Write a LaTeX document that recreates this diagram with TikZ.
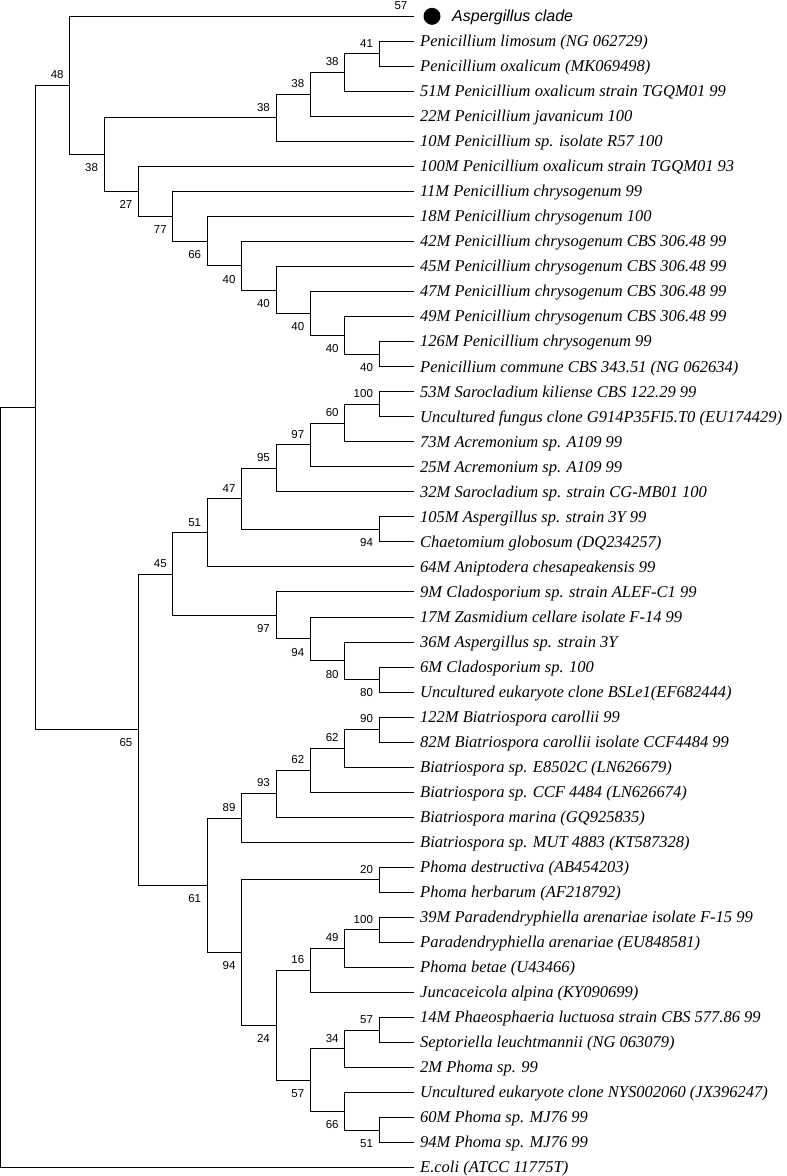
\documentclass[tikz,border=0pt]{standalone}
\usepackage{fontspec}
\setmainfont{Liberation Serif}
\newfontfamily\cladefont{Liberation Sans}
\newfontfamily\bsfont{Liberation Sans}

\tikzset{
	branch/.style={draw=black, line width=1pt},
	taxon/.style={anchor=base west, inner sep=0pt, xshift=6.5pt, yshift=-5.3pt, font=\itshape\fontsize{16.5}{18}\selectfont},
	bsup/.style={anchor=base east, inner sep=0pt, xshift=-6pt, yshift=6.8pt, font=\bsfont\fontsize{11.5}{12}\selectfont},
	bsdown/.style={anchor=base east, inner sep=0pt, xshift=-6pt, yshift=-17.3pt, font=\bsfont\fontsize{11.5}{12}\selectfont},
}

\begin{document}
\begin{tikzpicture}[x=34.375pt, y=-25.03pt]
		\useasboundingbox (-1pt,16.3pt) rectangle (786pt,-1159.7pt);

		% Taxa (tips of the tree)
		\coordinate (l0) at (12,0);
		\foreach \i/\name in {
			1/{Penicillium limosum (NG 062729)},
			2/{Penicillium oxalicum (MK069498)},
			3/{51M Penicillium oxalicum strain TGQM01 99},
			4/{22M Penicillium javanicum 100},
			5/{10M Penicillium sp. isolate R57 100},
			6/{100M Penicillium oxalicum strain TGQM01 93},
			7/{11M Penicillium chrysogenum 99},
			8/{18M Penicillium chrysogenum 100},
			9/{42M Penicillium chrysogenum CBS 306.48 99},
			10/{45M Penicillium chrysogenum CBS 306.48 99},
			11/{47M Penicillium chrysogenum CBS 306.48 99},
			12/{49M Penicillium chrysogenum CBS 306.48 99},
			13/{126M Penicillium chrysogenum 99},
			14/{Penicillium commune CBS 343.51 (NG 062634)},
			15/{53M Sarocladium kiliense CBS 122.29 99},
			16/{Uncultured fungus clone G914P35FI5.T0 (EU174429)},
			17/{73M Acremonium sp. A109 99},
			18/{25M Acremonium sp. A109 99},
			19/{32M Sarocladium sp. strain CG-MB01 100},
			20/{105M Aspergillus sp. strain 3Y 99},
			21/{Chaetomium globosum (DQ234257)},
			22/{64M Aniptodera chesapeakensis 99},
			23/{9M Cladosporium sp. strain ALEF-C1 99},
			24/{17M Zasmidium cellare isolate F-14 99},
			25/{36M Aspergillus sp. strain 3Y},
			26/{6M Cladosporium sp. 100},
			27/{Uncultured eukaryote clone BSLe1(EF682444)},
			28/{122M Biatriospora carollii 99},
			29/{82M Biatriospora carollii isolate CCF4484 99},
			30/{Biatriospora sp. E8502C (LN626679)},
			31/{Biatriospora sp. CCF 4484 (LN626674)},
			32/{Biatriospora marina (GQ925835)},
			33/{Biatriospora sp. MUT 4883 (KT587328)},
			34/{Phoma destructiva (AB454203)},
			35/{Phoma herbarum (AF218792)},
			36/{39M Paradendryphiella arenariae isolate F-15 99},
			37/{Paradendryphiella arenariae (EU848581)},
			38/{Phoma betae (U43466)},
			39/{Juncaceicola alpina (KY090699)},
			40/{14M Phaeosphaeria luctuosa strain CBS 577.86 99},
			41/{Septoriella leuchtmannii (NG 063079)},
			42/{2M Phoma sp. 99},
			43/{Uncultured eukaryote clone NYS002060 (JX396247)},
			44/{60M Phoma sp. MJ76 99},
			45/{94M Phoma sp. MJ76 99},
			46/{E.coli (ATCC 11775T)}} {
			\coordinate (l\i) at (12,\i);
			\node[taxon] (t\i) at (l\i) {\name};
		}

		% Collapsed Aspergillus clade
		\node[circle, fill=black, inner sep=0pt, minimum size=17pt] (dot) at ([xshift=18.5pt]l0) {};
		\node[anchor=base west, inner sep=0pt, font=\cladefont\itshape\fontsize{16}{18}\selectfont] (tclade) at ([xshift=38.5pt, yshift=-5.3pt]l0) {Aspergillus clade};
		\node[bsup] (bl0) at (l0) {57};

		% Root and deep nodes
		\coordinate (root) at (0,30.8);
		\coordinate (A) at (1,15.63);
		\coordinate (B) at (2,2.765);    \node[bsup]   (bB) at (B) {48};
		\coordinate (C) at (4,28.5);     \node[bsdown] (bC) at (C) {65};

		% Penicillium group
		\coordinate (D) at (3,5.529);    \node[bsdown] (bD) at (D) {38};
		\coordinate (E) at (8,4.0625);   \node[bsup]   (bE) at (E) {38};
		\coordinate (G) at (9,3.125);    \node[bsup]   (bG) at (G) {38};
		\coordinate (H) at (10,2.25);    \node[bsup]   (bH) at (H) {38};
		\coordinate (I) at (11,1.5);     \node[bsup]   (bI) at (I) {41};
		\coordinate (F) at (4,6.996);    \node[bsdown] (bF) at (F) {27};
		\coordinate (J) at (5,7.992);    \node[bsdown] (bJ) at (J) {77};
		\coordinate (K) at (6,8.984);    \node[bsdown] (bK) at (K) {66};
		\coordinate (L) at (7,9.969);    \node[bsdown] (bL) at (L) {40};
		\coordinate (M) at (8,10.9375);  \node[bsdown] (bM) at (M) {40};
		\coordinate (N) at (9,11.875);   \node[bsdown] (bN) at (N) {40};
		\coordinate (O) at (10,12.75);   \node[bsdown] (bO) at (O) {40};
		\coordinate (P) at (11,13.5);    \node[bsdown] (bP) at (P) {40};

		% Sordariomycetes / Cladosporium group
		\coordinate (Q) at (5,22.29);    \node[bsup]   (bQ) at (Q) {45};
		\coordinate (S) at (6,20.64);    \node[bsup]   (bS) at (S) {51};
		\coordinate (U) at (7,19.28);    \node[bsup]   (bU) at (U) {47};
		\coordinate (V) at (8,18.0625);  \node[bsup]   (bV) at (V) {95};
		\coordinate (X) at (9,17.125);   \node[bsup]   (bX) at (X) {97};
		\coordinate (Y) at (10,16.25);   \node[bsup]   (bY) at (Y) {60};
		\coordinate (Z) at (11,15.5);    \node[bsup]   (bZ) at (Z) {100};
		\coordinate (W) at (11,20.5);    \node[bsdown] (bW) at (W) {94};
		\coordinate (T) at (8,23.9375);  \node[bsdown] (bT) at (T) {97};
		\coordinate (AA) at (9,24.875);  \node[bsdown] (bAA) at (AA) {94};
		\coordinate (AB) at (10,25.75);  \node[bsdown] (bAB) at (AB) {80};
		\coordinate (AC) at (11,26.5);   \node[bsdown] (bAC) at (AC) {80};

		% Biatriospora / Phoma group
		\coordinate (R) at (6,34.72);    \node[bsdown] (bR) at (R) {61};
		\coordinate (AD) at (7,32.03);   \node[bsup]   (bAD) at (AD) {89};
		\coordinate (AF) at (8,31.06);   \node[bsup]   (bAF) at (AF) {93};
		\coordinate (AG) at (9,30.125);  \node[bsup]   (bAG) at (AG) {62};
		\coordinate (AH) at (10,29.25);  \node[bsup]   (bAH) at (AH) {62};
		\coordinate (AI) at (11,28.5);   \node[bsup]   (bAI) at (AI) {90};
		\coordinate (AE) at (7,37.41);   \node[bsdown] (bAE) at (AE) {94};
		\coordinate (AJ) at (11,34.5);   \node[bsup]   (bAJ) at (AJ) {20};
		\coordinate (AK) at (8,40.31);   \node[bsdown] (bAK) at (AK) {24};
		\coordinate (AL) at (9,38.125);  \node[bsup]   (bAL) at (AL) {16};
		\coordinate (AN) at (10,37.25);  \node[bsup]   (bAN) at (AN) {49};
		\coordinate (AO) at (11,36.5);   \node[bsup]   (bAO) at (AO) {100};
		\coordinate (AM) at (9,42.5);    \node[bsdown] (bAM) at (AM) {57};
		\coordinate (AP) at (10,41.25);  \node[bsup]   (bAP) at (AP) {34};
		\coordinate (AR) at (11,40.5);   \node[bsup]   (bAR) at (AR) {57};
		\coordinate (AQ) at (10,43.75);  \node[bsdown] (bAQ) at (AQ) {66};
		\coordinate (AS) at (11,44.5);   \node[bsdown] (bAS) at (AS) {51};

		% Branches: parent |- child
		\foreach \p/\c in {root/A, root/l46, A/B, A/C, B/l0, B/D,
			D/E, D/F, E/G, E/l5, G/H, G/l4, H/I, H/l3, I/l1, I/l2,
			F/l6, F/J, J/l7, J/K, K/l8, K/L, L/l9, L/M, M/l10, M/N,
			N/l11, N/O, O/l12, O/P, P/l13, P/l14,
			C/Q, C/R, Q/S, Q/T, S/U, S/l22, U/V, U/W, V/X, V/l19,
			X/Y, X/l18, Y/Z, Y/l17, Z/l15, Z/l16, W/l20, W/l21,
			T/l23, T/AA, AA/l24, AA/AB, AB/l25, AB/AC, AC/l26, AC/l27,
			R/AD, R/AE, AD/AF, AD/l33, AF/AG, AF/l32, AG/AH, AG/l31,
			AH/AI, AH/l30, AI/l28, AI/l29, AE/AJ, AE/AK, AJ/l34, AJ/l35,
			AK/AL, AK/AM, AL/AN, AL/l39, AN/AO, AN/l38, AO/l36, AO/l37,
			AM/AP, AM/AQ, AP/AR, AP/l42, AR/l40, AR/l41, AQ/l43, AQ/AS,
			AS/l44, AS/l45} {
			\draw[branch] (\p) |- (\c);
		}
	\end{tikzpicture}
\end{document}
